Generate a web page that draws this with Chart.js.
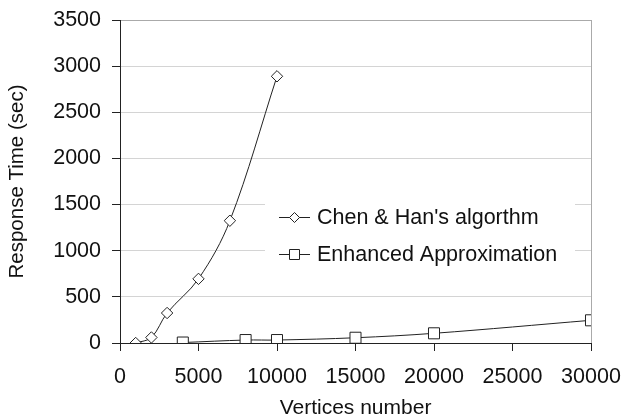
<!DOCTYPE html>
<html>
<head>
<meta charset="utf-8">
<script src="https://cdn.jsdelivr.net/npm/chart.js@4"></script>
<style>
  html, body { margin: 0; padding: 0; background: #fff; }
  #wrap { width: 622px; height: 420px; }
</style>
</head>
<body>
<div id="wrap"><canvas id="c" width="622" height="420"></canvas></div>
<script>
const chenX = [1000, 2000, 3000, 5000, 7000, 10000];
const chenY = [0, 60, 325, 695, 1325, 2890];
const enhX = [4000, 8000, 10000, 15000, 20000, 30000];
const enhY = [5, 32, 32, 57, 105, 246];
const seriesNames = ["Chen & Han's algorthm", "Enhanced Approximation"];
const xTitle = "Vertices number";
const yTitle = "Response Time (sec)";

const FONT = "'Liberation Sans', Arial, Helvetica, sans-serif";
const INK = '#222';

const legendPlugin = {
  id: 'customLegend',
  afterDatasetsDraw(chart) {
    const ctx = chart.ctx;
    ctx.save();
    ctx.fillStyle = '#fff';
    ctx.fillRect(265, 190, 310, 84);
    const rows = [217, 254];
    chart.data.datasets.forEach((ds, i) => {
      const y = rows[i];
      ctx.strokeStyle = INK;
      ctx.lineWidth = 1;
      ctx.beginPath();
      ctx.moveTo(279, y + 0.5);
      ctx.lineTo(310, y + 0.5);
      ctx.stroke();
      ctx.fillStyle = '#fff';
      ctx.beginPath();
      if (ds.pointStyle === 'rectRot') {
        const r = 5;
        ctx.moveTo(294.5 - r, y + 0.5);
        ctx.lineTo(294.5, y + 0.5 - r);
        ctx.lineTo(294.5 + r, y + 0.5);
        ctx.lineTo(294.5, y + 0.5 + r);
        ctx.closePath();
      } else {
        ctx.rect(289.5, y - 4.5, 10, 10);
      }
      ctx.fill();
      ctx.stroke();
      ctx.fillStyle = '#111';
      ctx.font = '21.5px ' + FONT;
      ctx.textBaseline = 'middle';
      ctx.textAlign = 'left';
      ctx.fillText(ds.label, 317, y + 1);
    });
    ctx.restore();
  }
};

const toPts = (xs, ys) => xs.map((x, i) => ({ x: x, y: ys[i] }));

new Chart(document.getElementById('c'), {
  type: 'line',
  data: {
    datasets: [
      {
        label: seriesNames[0],
        data: toPts(chenX, chenY),
        borderColor: INK,
        borderWidth: 1,
        pointStyle: 'rectRot',
        pointRadius: 5.7,
        pointBackgroundColor: '#fff',
        pointBorderColor: INK,
        pointBorderWidth: 1,
        tension: 0.35,
        fill: false
      },
      {
        label: seriesNames[1],
        data: toPts(enhX, enhY),
        borderColor: INK,
        borderWidth: 1,
        pointStyle: 'rect',
        pointRadius: 7.8,
        pointBackgroundColor: '#fff',
        pointBorderColor: INK,
        pointBorderWidth: 1,
        tension: 0.35,
        fill: false
      }
    ]
  },
  options: {
    responsive: false,
    animation: false,
    devicePixelRatio: 1,
    layout: { padding: { top: 20, right: 31, left: 0, bottom: 0 } },
    plugins: {
      legend: { display: false },
      tooltip: { enabled: false }
    },
    scales: {
      x: {
        type: 'linear',
        min: 0,
        max: 30000,
        afterFit: (s) => { s.height = 77; s.paddingLeft = 0; s.paddingRight = 0; },
        ticks: {
          stepSize: 5000,
          padding: 13,
          color: '#111',
          font: { family: FONT, size: 21.5 },
          maxRotation: 0,
          callback: (v) => String(v)
        },
        grid: {
          drawOnChartArea: true,
          tickLength: 8,
          tickColor: INK,
          color: (c) => (c.tick && c.tick.value === 30000) ? '#aaaaaa' : 'rgba(0,0,0,0)',
          lineWidth: 1
        },
        border: { display: true, color: INK, width: 1 },
        title: {
          display: true,
          text: xTitle,
          color: '#111',
          font: { family: FONT, size: 21, lineHeight: 1.1 },
          padding: { top: 0, bottom: 0 }
        }
      },
      y: {
        type: 'linear',
        min: 0,
        max: 3500,
        afterFit: (s) => { s.width = 120; s.paddingTop = 0; s.paddingBottom = 0; },
        ticks: {
          stepSize: 500,
          padding: 11,
          color: '#111',
          font: { family: FONT, size: 21.5 },
          callback: (v) => String(v)
        },
        grid: {
          tickLength: 8,
          tickColor: INK,
          color: (c) => (c.tick && c.tick.value === 3500) ? '#aaaaaa' : '#d4d4d4',
          lineWidth: 1
        },
        border: { display: true, color: INK, width: 1 },
        title: {
          display: true,
          text: yTitle,
          color: '#111',
          font: { family: FONT, size: 20.5 },
          padding: { top: 5, bottom: 0 }
        }
      }
    }
  },
  plugins: [legendPlugin]
});
</script>
</body>
</html>
